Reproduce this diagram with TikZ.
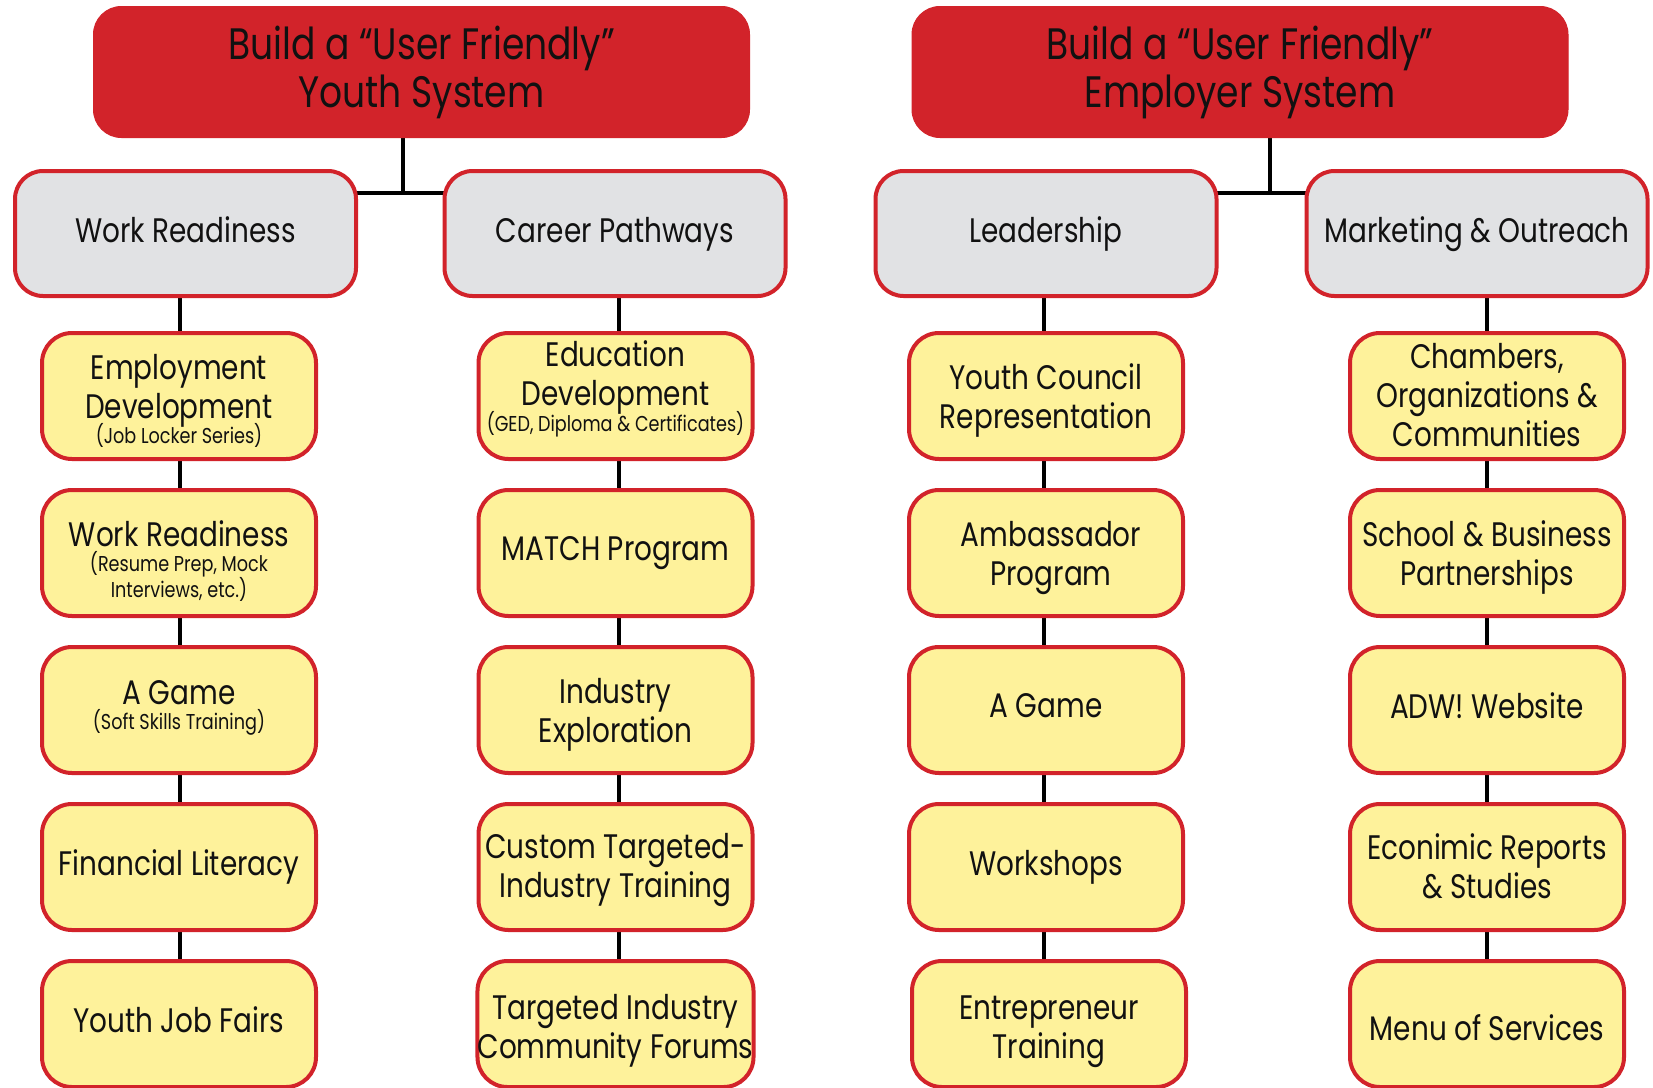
\documentclass[tikz,border=0pt]{standalone}
\usepackage{fontspec}
\setmainfont{Poppins}[FakeStretch=0.82]
\usetikzlibrary{backgrounds}
\definecolor{hred}{HTML}{D2232A}
\definecolor{bgray}{HTML}{E1E2E4}
\definecolor{byel}{HTML}{FEF29B}
\definecolor{ink}{HTML}{111111}
\newcommand\mainf{\fontsize{34}{39}\selectfont}
\newcommand\headf{\fontsize{44}{48}\selectfont}
\newcommand\smallf{\fontsize{21.5}{25}\selectfont}
% make the first line of a multi-line label taller by 2*#1 (moves the text down by #1)
\newcommand\tdn[2]{\raisebox{0pt}[\dimexpr\height+#1+#1\relax][\depth]{#2}}
\begin{document}
\begin{tikzpicture}[x=1pt,y=-1pt,
 headbox/.style={fill=hred, draw=hred, line width=1pt, rounded corners=28pt, minimum width=656pt, minimum height=131pt, inner sep=0pt, align=center, font=\headf, text=ink},
 graybox/.style={fill=bgray, draw=hred, line width=4pt, rounded corners=28pt, minimum width=341pt, minimum height=125pt, inner sep=0pt, align=center, font=\mainf, text=ink,
   execute at begin node=\vphantom{Ag}, execute at end node=\vphantom{gy}},
 ybox/.style={fill=byel, draw=hred, line width=4pt, rounded corners=30pt, minimum width=274pt, minimum height=126pt, inner sep=0pt, align=center, font=\mainf, text=ink,
   execute at begin node=\vphantom{Ag}, execute at end node=\vphantom{gy}},
 tdown/.style={execute at begin node={\rule{0pt}{\dimexpr 23.7pt+#1+#1\relax}}},
 tup/.style={execute at end node={\rule[\dimexpr -8pt-#1-#1\relax]{0pt}{\dimexpr 8pt+#1+#1\relax}}},
 conn/.style={line width=4pt, black}]
\useasboundingbox (0,0) rectangle (1653,1087);
% headers
\node[headbox] (yh) at (421.5,72) {Build a “User Friendly”\\Youth System};
\node[headbox] (eh) at (1240,72) {Build a “User Friendly”\\Employer System};
% categories
\node[graybox, tdown=2pt] (wr) at (185.5,233.5) {Work Readiness};
\node[graybox, tdown=2pt] (cp) at (615,233.5) {Career Pathways};
\node[graybox, tdown=2pt] (ld) at (1046,233.5) {Leadership};
\node[graybox, tdown=2pt] (mo) at (1477,233.5) {Marketing \& Outreach};
% column 1
\node[ybox] (a1) at (179,396) {\tdn{7.4pt}{Employment}\\Development\\[-14pt]{\smallf (Job Locker Series)}};
\node[ybox] (a2) at (179,553) {\tdn{10.5pt}{Work Readiness}\\[-14pt]{\smallf (Resume Prep, Mock}\\[-13pt]{\smallf Interviews, etc.)}};
\node[ybox] (a3) at (179,710) {A Game\\[-14pt]{\smallf (Soft Skills Training)}};
\node[ybox] (a4) at (179,867) {Financial Literacy};
\node[ybox] (a5) at (179,1024) {Youth Job Fairs};
% column 2
\node[ybox, tup=6pt] (b1) at (615.5,396) {Education\\Development\\[-13pt]{\smallf (GED, Diploma \& Certificates)}};
\node[ybox] (b2) at (615.5,553) {MATCH Program};
\node[ybox] (b3) at (615.5,710) {\tdn{5.3pt}{Industry}\\Exploration};
\node[ybox] (b4) at (615.5,867) {\tdn{3pt}{Custom Targeted-}\\Industry Training};
\node[ybox] (b5) at (615.5,1024) {\tdn{7pt}{Targeted Industry}\\Community Forums};
% column 3
\node[ybox] (c1) at (1046,396) {\tdn{5pt}{Youth Council}\\Representation};
\node[ybox] (c2) at (1046,553) {\hspace*{10pt}\tdn{5pt}{Ambassador}\\\hspace*{10pt}Program};
\node[ybox] (c3) at (1046,710) {A Game};
\node[ybox] (c4) at (1046,867) {Workshops};
\node[ybox] (c5) at (1049,1024) {\tdn{7.4pt}{Entrepreneur}\\Training};
% column 4
\node[ybox] (d1) at (1487,396) {\tdn{4pt}{Chambers,}\\Organizations \&\\Communities};
\node[ybox] (d2) at (1487,553) {\tdn{5pt}{School \& Business}\\Partnerships};
\node[ybox] (d3) at (1487,710) {ADW! Website};
\node[ybox] (d4) at (1487,867) {\tdn{4pt}{Econimic Reports}\\\& Studies};
\node[ybox, tdown=9.5pt] (d5) at (1487,1024) {Menu of Services};
% junctions and column lines
\coordinate (j1) at (403,193);
\coordinate (j2) at (1270,193);
\coordinate (xa) at (180,0);
\coordinate (xb) at (619,0);
\coordinate (xc) at (1044,0);
\coordinate (xd) at (1487,0);
\begin{pgfonlayer}{background}
\fill[white] (0,0) rectangle (1653,1087);
\draw[conn] (yh.center -| j1) -- (j1);
\draw[conn] (wr.center |- j1) -- (cp.center |- j1);
\draw[conn] (eh.center -| j2) -- (j2);
\draw[conn] (ld.center |- j2) -- (mo.center |- j2);
\draw[conn] (wr.center -| xa) -- (a1.center -| xa) -- (a2.center -| xa) -- (a3.center -| xa) -- (a4.center -| xa) -- (a5.center -| xa);
\draw[conn] (cp.center -| xb) -- (b1.center -| xb) -- (b2.center -| xb) -- (b3.center -| xb) -- (b4.center -| xb) -- (b5.center -| xb);
\draw[conn] (ld.center -| xc) -- (c1.center -| xc) -- (c2.center -| xc) -- (c3.center -| xc) -- (c4.center -| xc) -- (c5.center -| xc);
\draw[conn] (mo.center -| xd) -- (d1.center -| xd) -- (d2.center -| xd) -- (d3.center -| xd) -- (d4.center -| xd) -- (d5.center -| xd);
\end{pgfonlayer}
\end{tikzpicture}
\end{document}
